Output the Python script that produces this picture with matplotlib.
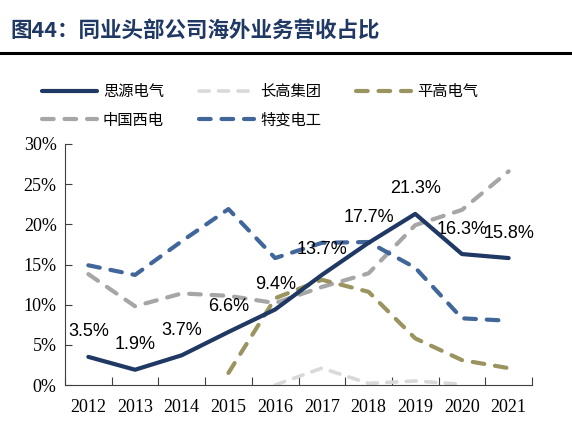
import numpy as np
import matplotlib.pyplot as plt
from matplotlib.lines import Line2D

plt.rcParams['font.family'] = ['Noto Sans CJK SC', 'DejaVu Sans']

years = ['2012', '2013', '2014', '2015', '2016', '2017', '2018', '2019', '2020', '2021']
nan = np.nan

# 海外业务营收占比 (%)
siyuan = [3.5, 1.9, 3.7, 6.6, 9.4, 13.7, 17.7, 21.3, 16.3, 15.8]
changgao = [nan, nan, nan, nan, 0.0, 2.1, 0.2, 0.5, 0.1, nan]
pinggao = [nan, nan, nan, 1.5, 10.8, 13.1, 11.6, 5.8, 3.1, 2.1]
xidian = [13.8, 9.8, 11.4, 11.1, 10.2, 12.2, 13.9, 19.9, 21.8, 26.6]
tebian = [14.9, 13.7, 17.9, 21.9, 15.8, 17.7, 17.8, 14.6, 8.3, 8.0]

fig = plt.figure(figsize=(5.72, 4.47), dpi=100)

# title and rule
fig.text(10 / 572, 1 - 30 / 447, '图44：同业头部公司海外业务营收占比', fontsize=15.5,
         fontweight='bold', color='#1F3864', va='center', ha='left')
fig.add_artist(Line2D([0, 1], [1 - 53 / 447, 1 - 53 / 447], color='black', lw=2.2,
                      transform=fig.transFigure))

ax = fig.add_axes([65 / 572, 62 / 447, 467 / 572, 241 / 447])
x = np.arange(len(years))

dash_kw = dict(dash_capstyle='round', solid_capstyle='round')
ax.plot(x, siyuan, color='#1F3864', lw=3, label='思源电气', zorder=5, solid_capstyle='round')
ax.plot(x, xidian, color='#A6A6A6', lw=3, ls=(0, (2.8, 2.6)), label='中国西电', **dash_kw)
ax.plot(x, changgao, color='#D9D9D9', lw=2.6, ls=(0, (2.8, 2.6)), label='长高集团', **dash_kw)
ax.plot(x, tebian, color='#41669A', lw=3, ls=(0, (2.8, 2.6)), label='特变电工', **dash_kw)
ax.plot(x, pinggao, color='#9A9460', lw=3, ls=(0, (2.8, 2.6)), label='平高电气', **dash_kw)

for xi, v in zip(x, siyuan):
    ax.annotate(f'{v:.1f}%', (xi, v), xytext=(0, 18), textcoords='offset points',
                ha='center', va='center', fontsize=13, family='Liberation Sans')

ax.set_xlim(-0.5, len(years) - 0.5)
ax.set_ylim(0, 30)
ax.set_yticks(np.arange(0, 31, 5))
ax.set_yticklabels([f'{v}%' for v in range(0, 31, 5)], family='Liberation Serif', fontsize=13)
ax.set_xticks(np.arange(-0.5, len(years), 1))
ax.set_xticklabels([])
ax.set_xticks(x, minor=True)
ax.set_xticklabels(years, minor=True, family='Liberation Serif', fontsize=13)
ax.tick_params(axis='x', which='major', direction='in', length=6, width=0.8, color='#404040')
ax.tick_params(axis='x', which='minor', length=0, pad=10)
ax.tick_params(axis='y', direction='in', length=5, width=0.8, color='#404040', pad=6)
for s in ['top', 'right']:
    ax.spines[s].set_visible(False)
for s in ['left', 'bottom']:
    ax.spines[s].set_color('#404040')
    ax.spines[s].set_linewidth(0.8)

handles, labels = ax.get_legend_handles_labels()
order = [0, 1, 2, 3, 4]
fig.legend([handles[i] for i in order], [labels[i] for i in order], ncol=3,
           loc='center left', bbox_to_anchor=(28 / 572, 1 - 106 / 447), frameon=False,
           fontsize=11, handlelength=3.6, columnspacing=2.3, labelspacing=0.75,
           handletextpad=0.4)

fig.savefig('out.png', dpi=100)
